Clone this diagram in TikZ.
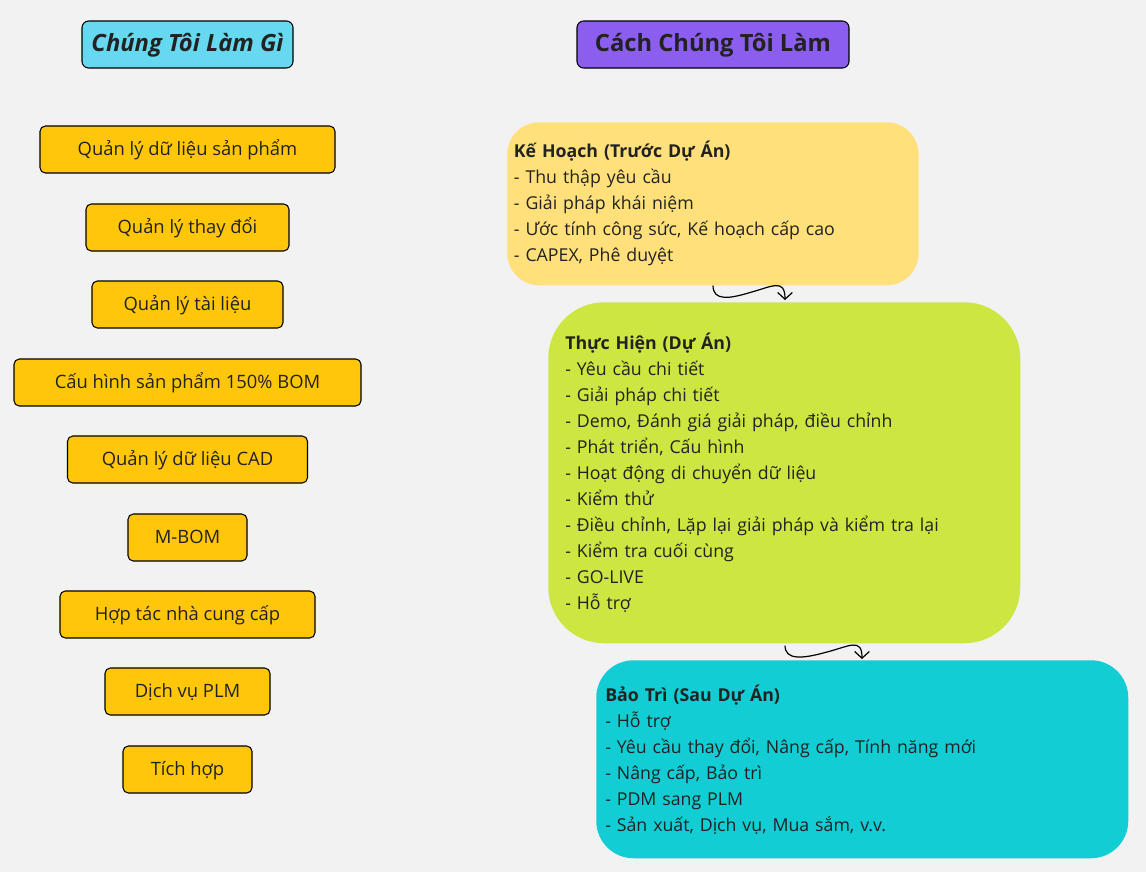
\documentclass[tikz,border=0pt]{standalone}
\usepackage{fontspec}
\setmainfont{Open Sans}
\usetikzlibrary{
    arrows.meta,
    positioning,
    calc
}
\definecolor{bggray}{RGB}{242, 242, 242}
\definecolor{whatcyan}{RGB}{102, 217, 240}
\definecolor{howpurple}{RGB}{139, 94, 240}
\definecolor{itemorange}{RGB}{255, 198, 10}
\definecolor{planyellow}{RGB}{255, 224, 122}
\definecolor{execgreen}{RGB}{205, 230, 65}
\definecolor{maintcyan}{RGB}{18, 205, 212}
\definecolor{txtdark}{RGB}{34, 34, 34}
\newcommand{\titlesize}{\fontsize{17.8}{21}\selectfont}
\newcommand{\itemsize}{\fontsize{13.8}{16}\selectfont}
\newcommand{\phasesize}{\fontsize{13.3}{19.5}\selectfont}

\begin{document}
\begin{tikzpicture}[
        x=0.75pt, y=-0.75pt,
        header/.style={rectangle, draw, rounded corners=5pt, line width=0.8pt, minimum height=35.25pt, text height=1.18em, text depth=0.2em, font=\titlesize\bfseries, text=txtdark},
        item/.style={rectangle, draw, rounded corners=4pt, line width=0.8pt, fill=itemorange, minimum height=35.25pt, text height=1.15em, text depth=0.2em, font=\itemsize, text=txtdark},
        wd/.style={minimum width=#1*0.75pt},
        phase/.style={rectangle, align=left, anchor=north west, font=\phasesize, text=txtdark},
        flow/.style={-{Straight Barb[length=5pt, width=11pt]}, line width=0.9pt}
    ]
        \fill[bggray] (0,0) rectangle (1146,872);
        \useasboundingbox (0,0) rectangle (1146,872);

        % column headers
        \node[header, fill=whatcyan, wd=211, font=\titlesize\bfseries\itshape] (what) at (187.5,44.5) {Chúng Tôi Làm Gì};
        \node[header, fill=howpurple, wd=272] (how) at (713,44.5) {Cách Chúng Tôi Làm};

        % what we do
        \node[item, wd=295] (pdm) at (187.5,149.5) {Quản lý dữ liệu sản phẩm};
        \node[item, wd=203] (chg) at (187.5,227.5) {Quản lý thay đổi};
        \node[item, wd=191] (doc) at (187.5,304.5) {Quản lý tài liệu};
        \node[item, wd=347] (cfg) at (187.5,382.5) {Cấu hình sản phẩm 150\% BOM};
        \node[item, wd=240] (cad) at (187.5,459.5) {Quản lý dữ liệu CAD};
        \node[item, wd=119] (mbom) at (187.5,537.5) {M-BOM};
        \node[item, wd=255] (sup) at (187.5,614.5) {Hợp tác nhà cung cấp};
        \node[item, wd=165] (svc) at (187.5,691.5) {Dịch vụ PLM};
        \node[item, wd=129] (intg) at (187.5,769.5) {Tích hợp};

        % how we do it
        \node[phase, fill=planyellow, rounded corners=24pt, text width=398*0.75pt, inner xsep=5pt, minimum height=163*0.75pt] (plan) at (507,122) {\textbf{Kế Hoạch (Trước Dự Án)}\\- Thu thập yêu cầu\\- Giải pháp khái niệm\\- Ước tính công sức, Kế hoạch cấp cao\\- CAPEX, Phê duyệt};
        \node[phase, fill=execgreen, rounded corners=42pt, text width=438*0.75pt, inner xsep=12.75pt, minimum height=341*0.75pt] (exec) at (548,302) {\textbf{Thực Hiện (Dự Án)}\\- Yêu cầu chi tiết\\- Giải pháp chi tiết\\- Demo, Đánh giá giải pháp, điều chỉnh\\- Phát triển, Cấu hình\\- Hoạt động di chuyển dữ liệu\\- Kiểm thử\\- Điều chỉnh, Lặp lại giải pháp và kiểm tra lại\\- Kiểm tra cuối cùng\\- GO-LIVE\\- Hỗ trợ};
        \node[phase, fill=maintcyan, rounded corners=28pt, text width=514*0.75pt, inner xsep=6.75pt, minimum height=198*0.75pt] (maint) at (596,660) {\textbf{Bảo Trì (Sau Dự Án)}\\- Hỗ trợ\\- Yêu cầu thay đổi, Nâng cấp, Tính năng mới\\- Nâng cấp, Bảo trì\\- PDM sang PLM\\- Sản xuất, Dịch vụ, Mua sắm, v.v.};

        \coordinate (planout) at ($(plan.south west)+(206,0)$);
        \coordinate (execin) at ($(exec.north west)+(237,-2)$);
        \coordinate (execout) at ($(exec.south west)+(237,2)$);
        \coordinate (maintin) at ($(maint.north west)+(266,-1)$);

        \draw[flow] (planout) .. controls ++(0,16) and ++(-20,6) .. ++(37,7) .. controls ++(22,-6) and ++(0,-22) .. (execin);
        \draw[flow] (execout) .. controls ++(0,15) and ++(-22,6) .. ++(40,7) .. controls ++(24,-6) and ++(0,-22) .. (maintin);
    \end{tikzpicture}
\end{document}
